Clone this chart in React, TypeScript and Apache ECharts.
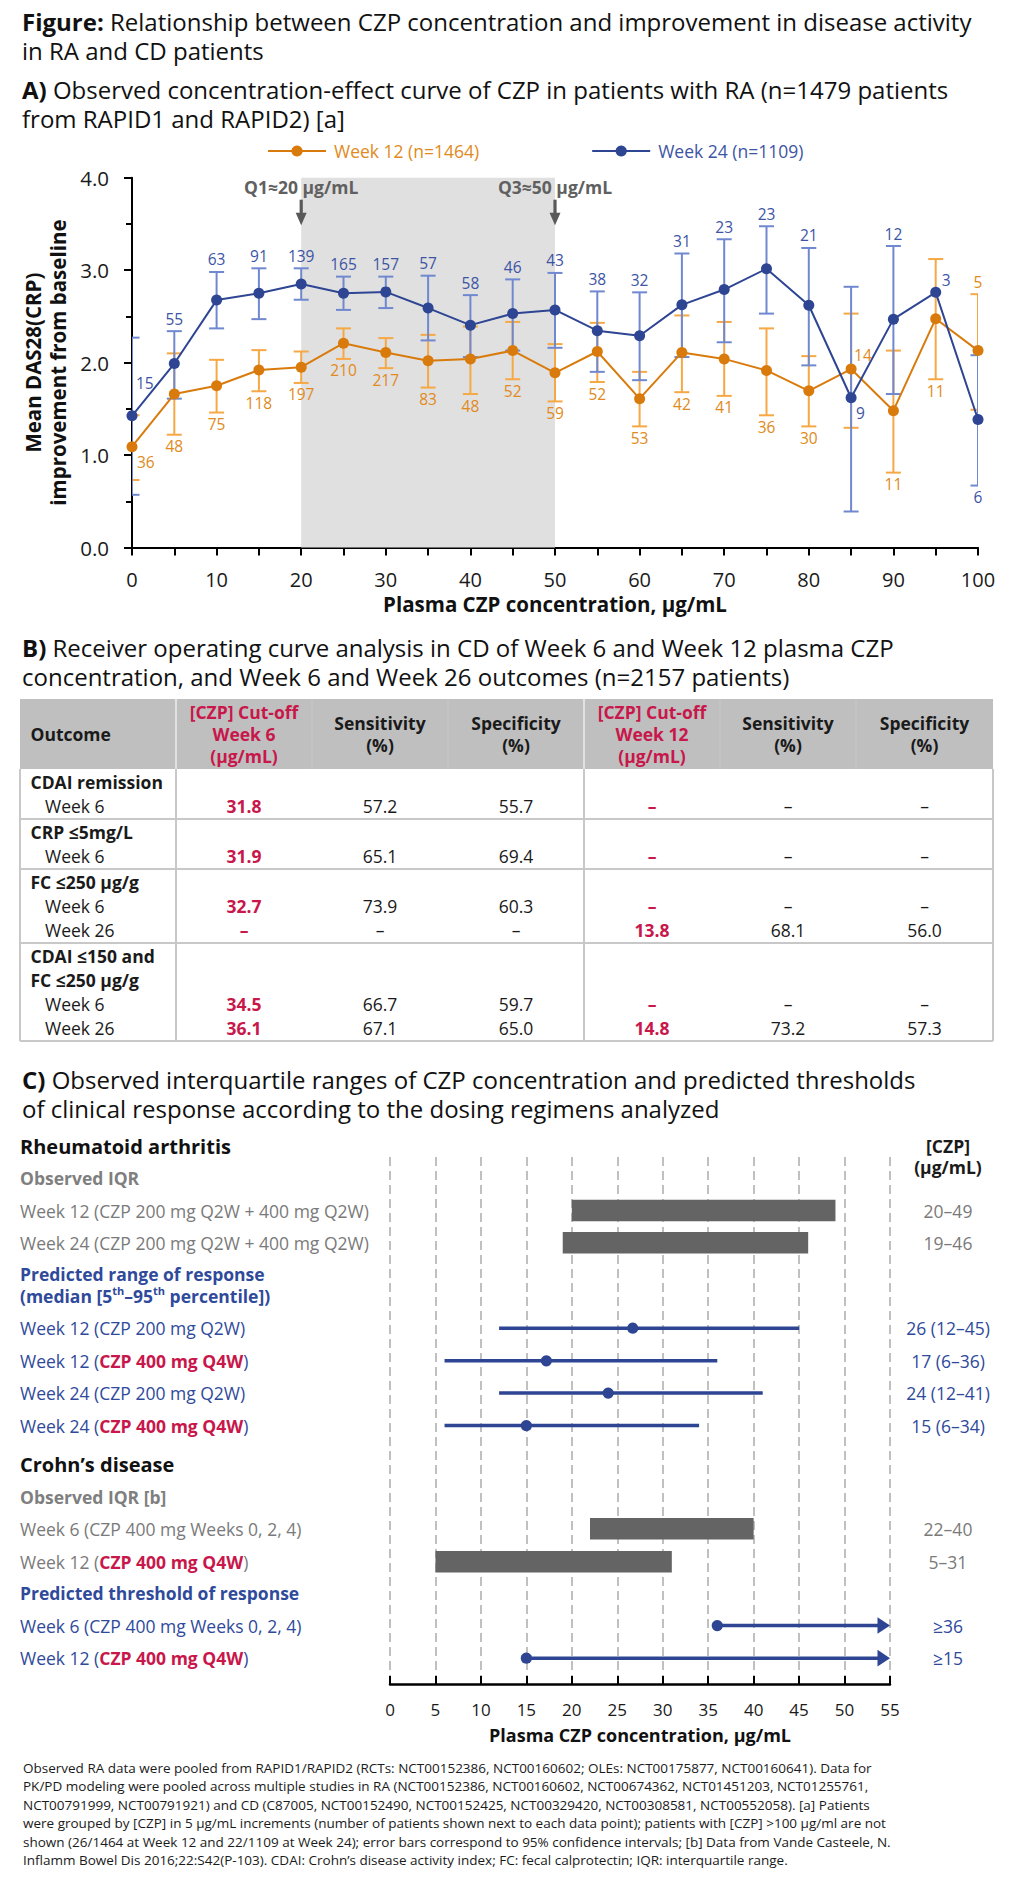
import React, { useEffect, useRef } from "react";
import * as echarts from "echarts";

const FONT = "'Open Sans', 'Noto Sans', 'DejaVu Sans', sans-serif";

// ================= Panel A data =================
const concentrations = [0, 5, 10, 15, 20, 25, 30, 35, 40, 45, 50, 55, 60, 65, 70, 75, 80, 85, 90, 95, 100];
const week12Mean = [1.09, 1.66, 1.75, 1.92, 1.95, 2.21, 2.11, 2.02, 2.04, 2.13, 1.89, 2.12, 1.61, 2.11, 2.04, 1.915, 1.695, 1.93, 1.48, 2.475, 2.13];
const week12Low = [0.73, 1.22, 1.46, 1.69, 1.78, 2.04, 1.94, 1.73, 1.66, 1.82, 1.58, 1.79, 1.31, 1.68, 1.64, 1.43, 1.31, 1.295, 0.81, 1.82, 1.49];
const week12High = [1.43, 2.1, 2.03, 2.135, 2.12, 2.37, 2.265, 2.3, 2.39, 2.44, 2.2, 2.43, 1.9, 2.51, 2.44, 2.37, 2.07, 2.53, 2.13, 3.12, 2.74];
const week12N = [36, 48, 75, 118, 197, 210, 217, 83, 48, 52, 59, 52, 53, 42, 41, 36, 30, 14, 11, 11, 5];
const week24Mean = [1.425, 1.99, 2.676, 2.75, 2.85, 2.75, 2.765, 2.59, 2.405, 2.53, 2.57, 2.345, 2.29, 2.625, 2.79, 3.015, 2.62, 1.62, 2.47, 2.76, 1.385];
const week24Low = [0.57, 1.61, 2.37, 2.47, 2.68, 2.57, 2.59, 2.24, 2.06, 2.13, 2.16, 1.9, 1.81, 2.06, 2.22, 2.53, 1.97, 0.39, 1.66, null, 0.67];
const week24High = [2.27, 2.34, 2.98, 3.02, 3.02, 2.93, 2.93, 2.94, 2.73, 2.9, 2.97, 2.77, 2.76, 3.18, 3.335, 3.475, 3.24, 2.82, 3.26, null, 2.08];
const week24N = [15, 55, 63, 91, 139, 165, 157, 57, 58, 46, 43, 38, 32, 31, 23, 23, 21, 9, 12, 3, 6];
const seriesNames = ["Week 12 (n=1464)", "Week 24 (n=1109)"];
const quartileMarks = [20, 50];
const quartileLabels = ["Q1≈20 µg/mL", "Q3≈50 µg/mL"];

// ================= Panel B data =================
const tableHeader = [
  ["Outcome"],
  ["[CZP] Cut-off", "Week 6", "(µg/mL)"],
  ["Sensitivity", "(%)"],
  ["Specificity", "(%)"],
  ["[CZP] Cut-off", "Week 12", "(µg/mL)"],
  ["Sensitivity", "(%)"],
  ["Specificity", "(%)"],
];
const outcomeNames = [["CDAI remission"], ["CRP ≤5mg/L"], ["FC ≤250 µg/g"], ["CDAI ≤150 and", "FC ≤250 µg/g"]];
const outcomeWeeks = [["Week 6"], ["Week 6"], ["Week 6", "Week 26"], ["Week 6", "Week 26"]];
const outcomeValues = [
  [[31.8, 57.2, 55.7, null, null, null]],
  [[31.9, 65.1, 69.4, null, null, null]],
  [[32.7, 73.9, 60.3, null, null, null], [null, null, null, 13.8, 68.1, 56.0]],
  [[34.5, 66.7, 59.7, null, null, null], [36.1, 67.1, 65.0, 14.8, 73.2, 57.3]],
];

// ================= Panel C data =================
const raIqrLabels = ["Week 12 (CZP 200 mg Q2W + 400 mg Q2W)", "Week 24 (CZP 200 mg Q2W + 400 mg Q2W)"];
const raIqrLow = [20, 19];
const raIqrHigh = [49, 46];
const raPredLabels = ["Week 12 (CZP 200 mg Q2W)", "Week 12 (CZP 400 mg Q4W)", "Week 24 (CZP 200 mg Q2W)", "Week 24 (CZP 400 mg Q4W)"];
const raPredMedian = [26.7, 17.2, 24.0, 15.0];
const raPredLow = [12, 6, 12, 6];
const raPredHigh = [45, 36, 41, 34];
const raPredText = ["26 (12–45)", "17 (6–36)", "24 (12–41)", "15 (6–34)"];
const cdIqrLabels = ["Week 6 (CZP 400 mg Weeks 0, 2, 4)", "Week 12 (CZP 400 mg Q4W)"];
const cdIqrLow = [22, 5];
const cdIqrHigh = [40, 31];
const cdThreshLabels = ["Week 6 (CZP 400 mg Weeks 0, 2, 4)", "Week 12 (CZP 400 mg Q4W)"];
const cdThreshold = [36, 15];
const cdThreshText = ["≥36", "≥15"];
const cAxisMax = 55;

const footnoteLines = [
  "Observed RA data were pooled from RAPID1/RAPID2 (RCTs: NCT00152386, NCT00160602; OLEs: NCT00175877, NCT00160641). Data for",
  "PK/PD modeling were pooled across multiple studies in RA (NCT00152386, NCT00160602, NCT00674362, NCT01451203, NCT01255761,",
  "NCT00791999, NCT00791921) and CD (C87005, NCT00152490, NCT00152425, NCT00329420, NCT00308581, NCT00552058). [a] Patients",
  "were grouped by [CZP] in 5 µg/mL increments (number of patients shown next to each data point); patients with [CZP] >100 µg/ml are not",
  "shown (26/1464 at Week 12 and 22/1109 at Week 24); error bars correspond to 95% confidence intervals; [b] Data from Vande Casteele, N.",
  "Inflamm Bowel Dis 2016;22:S42(P-103). CDAI: Crohn\u2019s disease activity index; FC: fecal calprotectin; IQR: interquartile range.",
];

// ================= styles =================
const BLUE = "#2e4593";
const BLUE_ERR = "#7088cf";
const BLUE_LBL = "#3d54a4";
const ORANGE = "#d97b0c";
const ORANGE_ERR = "#f6a845";
const ORANGE_LBL = "#e08a20";
const RED = "#c8174b";
const GRAY_TXT = "#7a7a7a";
const NAVY_TXT = "#2f4a9b";
const BAR = "#646464";
const INK = "#1a1a1a";

function T(text: string, x: number, y: number, o: any = {}) {
  const size = o.size || 17.5;
  return {
    type: "text",
    x,
    y,
    silent: true,
    z: 10,
    rotation: o.rotation || 0,
    style: {
      text,
      fill: o.color || INK,
      fontSize: size,
      fontFamily: FONT,
      fontWeight: o.bold ? "bold" : "normal",
      align: o.align || "left",
      verticalAlign: "middle",
      rich: o.rich,
      lineHeight: o.lineHeight || Math.round(size * 1.08),
    },
  };
}

function hline(x1: number, x2: number, y: number, color: string, w: number) {
  return { type: "line", silent: true, z: 9, shape: { x1, y1: y, x2, y2: y }, style: { stroke: color, lineWidth: w } };
}
function vline(x: number, y1: number, y2: number, color: string, w: number) {
  return { type: "line", silent: true, z: 9, shape: { x1: x, y1, x2: x, y2 }, style: { stroke: color, lineWidth: w } };
}

function buildGraphic() {
  const els: any[] = [];
  const para = (t: string, y: number, lh: number) =>
    els.push(
      T(t, 22, y, {
        size: 24,
        color: "#111",
        lineHeight: lh,
        rich: { b: { fontWeight: "bold", fontSize: 24, fontFamily: FONT, fill: "#111", lineHeight: lh } },
      })
    );
  para("{b|Figure:} Relationship between CZP concentration and improvement in disease activity\nin RA and CD patients", 36, 29);
  para("{b|A)} Observed concentration-effect curve of CZP in patients with RA (n=1479 patients\nfrom RAPID1 and RAPID2) [a]", 104.3, 29);
  para("{b|B)} Receiver operating curve analysis in CD of Week 6 and Week 12 plasma CZP\nconcentration, and Week 6 and Week 26 outcomes (n=2157 patients)", 662.4, 29);
  para("{b|C)} Observed interquartile ranges of CZP concentration and predicted thresholds\nof clinical response according to the dosing regimens analyzed", 1094.4, 29);

  // y-axis name of panel A
  els.push(
    T("Mean DAS28(CRP)\nimprovement from baseline", 45.5, 362.6, {
      bold: true,
      size: 20.5,
      align: "center",
      rotation: Math.PI / 2,
      lineHeight: 25,
      color: "#111",
    })
  );

  // ---- table ----
  const colX = [20, 176, 312, 448, 584, 720, 856, 993];
  const tableTop = 699;
  const headH = 70;
  els.push({
    type: "rect",
    silent: true,
    z: 8,
    shape: { x: colX[0], y: tableTop, width: colX[7] - colX[0], height: headH },
    style: { fill: "#bfbfbf" },
  });
  [1, 4].forEach((c) => els.push(vline(colX[c], tableTop, tableTop + headH, "#e2e2e2", 2)));
  [2, 3, 5, 6].forEach((c) => els.push(vline(colX[c], tableTop, tableTop + headH, "#c9c9c9", 1)));
  tableHeader.forEach((lines, c) => {
    const cx = c === 0 ? 30.5 : (colX[c] + colX[c + 1]) / 2;
    const mid = tableTop + headH / 2;
    els.push(
      T(lines.join("\n"), cx, mid, {
        bold: true,
        align: c === 0 ? "left" : "center",
        color: c === 1 || c === 4 ? RED : INK,
        lineHeight: 22,
      })
    );
  });
  let y = tableTop + headH;
  const seps: number[] = [];
  outcomeNames.forEach((names, g) => {
    const n = names.length + outcomeWeeks[g].length;
    els.push(T(names.join("\n"), 30.5, y + 13 + ((names.length - 1) * 24) / 2, { bold: true, lineHeight: 24 }));
    outcomeWeeks[g].forEach((w, k) => {
      const ly = y + 13 + (names.length + k) * 24;
      els.push(T(w, 45, ly));
      outcomeValues[g][k].forEach((v, c) => {
        const col = c + 1;
        const cx = (colX[col] + colX[col + 1]) / 2;
        const cut = col === 1 || col === 4;
        els.push(T(v == null ? "–" : (v as number).toFixed(1), cx, ly, { align: "center", bold: cut, color: cut ? RED : INK }));
      });
    });
    y += 26 + (n - 1) * 24;
    seps.push(y);
  });
  const bottom = seps[seps.length - 1];
  seps.forEach((s) => els.push(hline(colX[0], colX[7], s, "#c8c8c8", 2)));
  [0, 1, 4, 7].forEach((c) => els.push(vline(colX[c], tableTop + headH, bottom, "#c8c8c8", 2)));

  // ---- footnote ----
  els.push(T(footnoteLines.join("\n"), 23, 1768 + (footnoteLines.length - 1) * 9.2, { size: 13.5, color: INK, lineHeight: 18.4 }));
  return els;
}

function errorBarSeries(lo: any[], hi: any[], color: string) {
  return {
    type: "custom",
    xAxisIndex: 0,
    yAxisIndex: 0,
    z: 2,
    silent: true,
    clip: true,
    data: concentrations
      .map((x, i) => [x, lo[i], hi[i]])
      .filter((d) => d[1] != null && d[2] != null),
    renderItem: (params: any, api: any) => {
      const x = api.value(0);
      const a = api.coord([x, api.value(1)]);
      const b = api.coord([x, api.value(2)]);
      const s = { stroke: color, lineWidth: 2 };
      return {
        type: "group",
        children: [
          { type: "line", shape: { x1: a[0], y1: a[1], x2: b[0], y2: b[1] }, style: s },
          { type: "line", shape: { x1: a[0] - 7.5, y1: a[1], x2: a[0] + 7.5, y2: a[1] }, style: s },
          { type: "line", shape: { x1: b[0] - 7.5, y1: b[1], x2: b[0] + 7.5, y2: b[1] }, style: s },
        ],
      };
    },
  };
}

function labelSeries(mean: number[], lo: any[], hi: any[], ns: number[], color: string, def: string, overrides: any) {
  return {
    type: "custom",
    xAxisIndex: 0,
    yAxisIndex: 0,
    z: 6,
    silent: true,
    data: concentrations.map((x, i) => [x, mean[i]]),
    renderItem: (params: any, api: any) => {
      const i = params.dataIndex;
      const x = concentrations[i];
      const o = overrides[i] || { pos: def };
      let px = 0;
      let py = 0;
      let align = "center";
      if (o.pos === "top") {
        const p = api.coord([x, hi[i] != null ? hi[i] : mean[i]]);
        px = p[0];
        py = p[1] - 12.5;
      } else if (o.pos === "bottom") {
        const p = api.coord([x, lo[i] != null ? lo[i] : mean[i]]);
        px = p[0];
        py = p[1] + 11.5;
      } else {
        const p = api.coord([x, mean[i]]);
        px = p[0] + o.dx;
        py = p[1] + o.dy;
        align = "left";
      }
      return {
        type: "text",
        style: {
          text: String(ns[i]),
          x: px,
          y: py,
          fill: color,
          fontSize: 15.5,
          lineHeight: 17,
          fontFamily: FONT,
          align,
          verticalAlign: "middle",
        },
      };
    },
  };
}

// label placement (style only)
const blueLabelPlacement: any = {
  0: { pos: "right", dx: 4, dy: -33 },
  17: { pos: "right", dx: 5, dy: 15 },
  19: { pos: "right", dx: 6, dy: -12 },
  20: { pos: "bottom" },
};
const orangeLabelPlacement: any = {
  0: { pos: "right", dx: 5, dy: 15.5 },
  17: { pos: "right", dx: 3, dy: -14 },
  20: { pos: "top" },
};

// ---- panel C row layout (slot positions of each row) ----
const cRows: any[] = [
  { slot: 0, kind: "head", text: "Rheumatoid arthritis", st: "h1" },
  { slot: 0.33, kind: "rhead", text: "[CZP]\n(µg/mL)" },
  { slot: 1, kind: "head", text: "Observed IQR", st: "hg" },
  { slot: 2, kind: "iqr", set: "ra", i: 0 },
  { slot: 3, kind: "iqr", set: "ra", i: 1 },
  { slot: 4.31, kind: "head", rich: "{hb|Predicted range of response}\n{hb|(median [5}{sup|th}{hb|–95}{sup|th}{hb| percentile])}" },
  { slot: 5.65, kind: "pred", i: 0 },
  { slot: 6.66, kind: "pred", i: 1 },
  { slot: 7.66, kind: "pred", i: 2 },
  { slot: 8.67, kind: "pred", i: 3 },
  { slot: 9.88, kind: "head", text: "Crohn\u2019s disease", st: "h1" },
  { slot: 10.88, kind: "head", text: "Observed IQR [b]", st: "hg" },
  { slot: 11.87, kind: "iqr", set: "cd", i: 0 },
  { slot: 12.89, kind: "iqr", set: "cd", i: 1 },
  { slot: 13.86, kind: "head", text: "Predicted threshold of response", st: "hb" },
  { slot: 14.87, kind: "thresh", i: 0 },
  { slot: 15.88, kind: "thresh", i: 1 },
];

const richC: any = {
  g: { fill: GRAY_TXT, fontSize: 17.5, fontFamily: FONT, lineHeight: 19 },
  n: { fill: NAVY_TXT, fontSize: 17.5, fontFamily: FONT, lineHeight: 19 },
  r: { fill: RED, fontSize: 17.5, fontFamily: FONT, fontWeight: "bold", lineHeight: 19 },
  h1: { fill: "#111", fontSize: 20, fontFamily: FONT, fontWeight: "bold", lineHeight: 21 },
  hg: { fill: "#7f7f7f", fontSize: 17.5, fontFamily: FONT, fontWeight: "bold", lineHeight: 19 },
  hb: { fill: NAVY_TXT, fontSize: 17.5, fontFamily: FONT, fontWeight: "bold", lineHeight: 22 },
  sup: { fill: NAVY_TXT, fontSize: 11, fontFamily: FONT, fontWeight: "bold", verticalAlign: "top", lineHeight: 14 },
};

function richLabel(text: string, base: string) {
  const key = "CZP 400 mg Q4W";
  const k = text.indexOf(key);
  if (k < 0) return `{${base}|${text}}`;
  return `{${base}|${text.slice(0, k)}}{r|${key}}{${base}|${text.slice(k + key.length)}}`;
}

function cRenderItem(params: any, api: any) {
  const r = cRows[params.dataIndex];
  const y = api.coord([0, r.slot])[1];
  const kids: any[] = [];
  const leftText = (text: string) => ({
    type: "text",
    style: { text, rich: richC, x: 20, y, align: "left", verticalAlign: "middle" },
  });
  const rightText = (text: string, color: string, bold = false, lh = 19) => ({
    type: "text",
    style: {
      text,
      x: 948,
      y,
      fill: color,
      fontSize: 17.5,
      lineHeight: lh,
      fontFamily: FONT,
      fontWeight: bold ? "bold" : "normal",
      align: "center",
      verticalAlign: "middle",
    },
  });
  if (r.kind === "head") {
    kids.push(leftText(r.rich ? r.rich : `{${r.st}|${r.text}}`));
  } else if (r.kind === "rhead") {
    kids.push(rightText(r.text, INK, true, 21.3));
  } else if (r.kind === "iqr") {
    const labels = r.set === "ra" ? raIqrLabels : cdIqrLabels;
    const lo = r.set === "ra" ? raIqrLow[r.i] : cdIqrLow[r.i];
    const hi = r.set === "ra" ? raIqrHigh[r.i] : cdIqrHigh[r.i];
    const a = api.coord([lo, r.slot]);
    const b = api.coord([hi, r.slot]);
    kids.push({ type: "rect", shape: { x: a[0], y: y - 10.75, width: b[0] - a[0], height: 21.5 }, style: { fill: BAR } });
    kids.push(leftText(richLabel(labels[r.i], "g")));
    kids.push(rightText(`${lo}–${hi}`, GRAY_TXT));
  } else if (r.kind === "pred") {
    const a = api.coord([raPredLow[r.i], r.slot]);
    const b = api.coord([raPredHigh[r.i], r.slot]);
    const m = api.coord([raPredMedian[r.i], r.slot]);
    kids.push({ type: "line", shape: { x1: a[0], y1: y, x2: b[0], y2: y }, style: { stroke: BLUE, lineWidth: 3.5 } });
    kids.push({ type: "circle", shape: { cx: m[0], cy: y, r: 5.6 }, style: { fill: BLUE } });
    kids.push(leftText(richLabel(raPredLabels[r.i], "n")));
    kids.push(rightText(raPredText[r.i], NAVY_TXT));
  } else if (r.kind === "thresh") {
    const m = api.coord([cdThreshold[r.i], r.slot]);
    const tip = api.coord([cAxisMax, r.slot]);
    kids.push({ type: "line", shape: { x1: m[0], y1: y, x2: tip[0] - 11, y2: y }, style: { stroke: BLUE, lineWidth: 3.5 } });
    kids.push({
      type: "polygon",
      shape: { points: [[tip[0] - 12.5, y - 8.3], [tip[0], y], [tip[0] - 12.5, y + 8.3]] },
      style: { fill: BLUE },
    });
    kids.push({ type: "circle", shape: { cx: m[0], cy: y, r: 5.6 }, style: { fill: BLUE } });
    kids.push(leftText(richLabel(cdThreshLabels[r.i], "n")));
    kids.push(rightText(cdThreshText[r.i], NAVY_TXT));
  }
  return { type: "group", children: kids };
}

function buildOption() {
  return {
    animation: false,
    backgroundColor: "#ffffff",
    textStyle: { fontFamily: FONT },
    legend: {
      data: [
        { name: seriesNames[0], textStyle: { color: ORANGE_LBL } },
        { name: seriesNames[1], textStyle: { color: BLUE_LBL } },
      ],
      left: 267,
      top: 142,
      padding: 0,
      itemWidth: 58,
      itemHeight: 14,
      itemGap: 112,
      selectedMode: false,
      textStyle: { fontSize: 17.5, fontFamily: FONT, padding: [0, 0, 0, 3] },
    },
    grid: [
      { left: 132, top: 177.7, width: 846, height: 369.8, outerBoundsMode: "none", containLabel: false },
      { left: 390, top: 1157, width: 500, height: 527, outerBoundsMode: "none", containLabel: false },
    ],
    xAxis: [
      {
        gridIndex: 0,
        type: "value",
        min: 0,
        max: 100,
        interval: 10,
        axisLine: { show: true, onZero: false, lineStyle: { color: "#000", width: 2 } },
        axisTick: { show: true, length: 8, lineStyle: { color: "#000", width: 2 } },
        minorTick: { show: true, splitNumber: 2, length: 8, lineStyle: { color: "#000", width: 2 } },
        splitLine: { show: false },
        axisLabel: { fontSize: 20, color: INK, margin: 21.5, fontFamily: FONT },
        name: "Plasma CZP concentration, µg/mL",
        nameLocation: "middle",
        nameGap: 56.5,
        nameTextStyle: { fontSize: 20.5, fontWeight: "bold", color: "#111", verticalAlign: "middle", fontFamily: FONT },
      },
      {
        gridIndex: 1,
        type: "value",
        min: 0,
        max: cAxisMax,
        interval: 5,
        axisLine: { show: true, onZero: false, lineStyle: { color: "#000", width: 2.5 } },
        axisTick: { show: true, inside: true, length: 8, lineStyle: { color: "#000", width: 2 } },
        splitLine: { show: true, lineStyle: { color: "#c0c0c0", width: 2, type: [9, 5] } },
        axisLabel: { fontSize: 17, color: INK, margin: 17, fontFamily: FONT },
        name: "Plasma CZP concentration, µg/mL",
        nameLocation: "middle",
        nameGap: 51,
        nameTextStyle: { fontSize: 18, fontWeight: "bold", color: "#111", verticalAlign: "middle", fontFamily: FONT },
      },
    ],
    yAxis: [
      {
        gridIndex: 0,
        type: "value",
        min: 0,
        max: 4,
        interval: 1,
        axisLine: { show: true, lineStyle: { color: "#000", width: 2 } },
        axisTick: { show: true, length: 8, lineStyle: { color: "#000", width: 2 } },
        minorTick: { show: true, splitNumber: 2, length: 6, lineStyle: { color: "#000", width: 2 } },
        splitLine: { show: false },
        axisLabel: { fontSize: 20.5, color: INK, margin: 23, fontFamily: FONT, formatter: (v: number) => v.toFixed(1) },
      },
      { gridIndex: 1, type: "value", inverse: true, min: 0.341, max: 16.682, show: false },
    ],
    series: [
      {
        type: "line",
        xAxisIndex: 0,
        yAxisIndex: 0,
        data: [],
        z: 1,
        silent: true,
        markArea: { silent: true, itemStyle: { color: "#e0e0e0" }, data: [[{ xAxis: quartileMarks[0] }, { xAxis: quartileMarks[1] }]] },
      },
      errorBarSeries(week12Low, week12High, ORANGE_ERR),
      errorBarSeries(week24Low, week24High, BLUE_ERR),
      {
        name: seriesNames[0],
        type: "line",
        xAxisIndex: 0,
        yAxisIndex: 0,
        z: 3,
        data: concentrations.map((x, i) => [x, week12Mean[i]]),
        symbol: "circle",
        symbolSize: 11,
        lineStyle: { color: ORANGE, width: 2 },
        itemStyle: { color: ORANGE },
      },
      {
        name: seriesNames[1],
        type: "line",
        xAxisIndex: 0,
        yAxisIndex: 0,
        z: 4,
        data: concentrations.map((x, i) => [x, week24Mean[i]]),
        symbol: "circle",
        symbolSize: 11,
        lineStyle: { color: BLUE, width: 2 },
        itemStyle: { color: BLUE },
      },
      labelSeries(week12Mean, week12Low, week12High, week12N, ORANGE_LBL, "bottom", orangeLabelPlacement),
      labelSeries(week24Mean, week24Low, week24High, week24N, BLUE_LBL, "top", blueLabelPlacement),
      {
        type: "custom",
        xAxisIndex: 0,
        yAxisIndex: 0,
        z: 7,
        silent: true,
        data: quartileMarks.map((x) => [x, 4]),
        renderItem: (params: any, api: any) => {
          const p = api.coord([api.value(0), api.value(1)]);
          const c = "#595959";
          return {
            type: "group",
            children: [
              {
                type: "text",
                style: {
                  text: quartileLabels[params.dataIndex],
                  x: p[0],
                  y: p[1] + 9,
                  fill: "#606060",
                  fontSize: 17.5,
                  lineHeight: 19,
                  fontWeight: "bold",
                  fontFamily: FONT,
                  align: "center",
                  verticalAlign: "middle",
                },
              },
              { type: "rect", shape: { x: p[0] - 1.6, y: p[1] + 22, width: 3.2, height: 14 }, style: { fill: c } },
              {
                type: "polygon",
                shape: { points: [[p[0] - 5.5, p[1] + 35], [p[0] + 5.5, p[1] + 35], [p[0], p[1] + 47.5]] },
                style: { fill: c },
              },
            ],
          };
        },
      },
      {
        type: "custom",
        xAxisIndex: 1,
        yAxisIndex: 1,
        z: 5,
        silent: true,
        clip: false,
        data: cRows.map((r, i) => [0, r.slot, i]),
        renderItem: cRenderItem,
      },
    ],
    graphic: { elements: buildGraphic() },
  };
}

export default function App() {
  const ref = useRef<HTMLDivElement>(null);
  useEffect(() => {
    document.body.style.margin = "0";
    const chart = echarts.init(ref.current as HTMLDivElement, undefined, { renderer: "svg" });
    chart.setOption(buildOption() as any);
    return () => {
      chart.dispose();
    };
  }, []);
  return <div ref={ref} style={{ width: 1025, height: 1880, background: "#ffffff" }} />;
}
